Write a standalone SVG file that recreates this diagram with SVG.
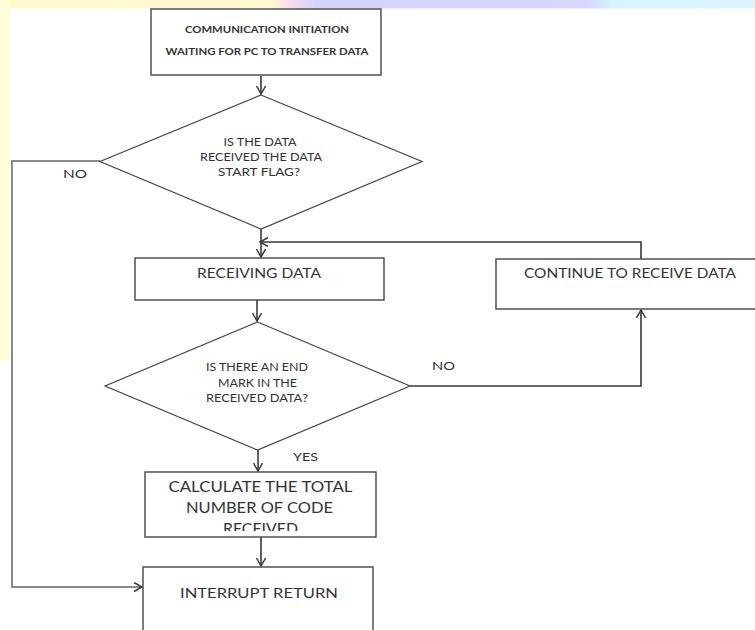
<svg xmlns="http://www.w3.org/2000/svg" width="755" height="630" viewBox="0 0 755 630">
<style>
.box{fill:#fff;stroke:#454545;stroke-width:1.4}
.dia{fill:#fff;stroke:#454545;stroke-width:1.2}
.t{font-family:Lato,"Open Sans","Liberation Sans",sans-serif;fill:#333;text-anchor:middle}
.b{font-weight:bold}
.c{fill:none;stroke:#3a3a3a;stroke-width:1.6}
.g{fill:none;stroke:#8a8a8a;stroke-width:2}
</style>
<defs>
<linearGradient id="strip" x1="0" y1="0" x2="1" y2="0">
<stop offset="0" stop-color="#FFF9CC"/>
<stop offset="0.36" stop-color="#FFF8D0"/>
<stop offset="0.39" stop-color="#F6D8F2"/>
<stop offset="0.42" stop-color="#D4D2FF"/>
<stop offset="0.78" stop-color="#D6D6FF"/>
<stop offset="0.81" stop-color="#D6F4FF"/>
<stop offset="1" stop-color="#DCF4FF"/>
</linearGradient>
<marker id="ah" markerWidth="12" markerHeight="12" refX="9" refY="5" orient="auto" markerUnits="userSpaceOnUse">
<path d="M1,0.5 L9,5 L1,9.5" fill="none" stroke="#3a3a3a" stroke-width="1.5"/>
</marker>
<clipPath id="clipCalc"><rect x="145" y="472" width="232" height="59"/></clipPath>
</defs>
<rect x="0" y="0" width="755" height="630" fill="#fff"/>
<rect x="0" y="0" width="755" height="8.5" fill="url(#strip)"/>
<rect x="0" y="0" width="9.5" height="361" fill="#FFFDD8"/>

<g id="connectors">
<line class="c" x1="261" y1="76" x2="261" y2="94" marker-end="url(#ah)"/>
<polyline class="g" points="100,161 12,161 12,587 142,587" marker-end="url(#ah)"/>
<line class="c" x1="261" y1="229" x2="261" y2="257" marker-end="url(#ah)"/>
<polyline class="c" points="641,259 641,242 260,242" marker-end="url(#ah)"/>
<line class="c" x1="257" y1="300" x2="257" y2="321" marker-end="url(#ah)"/>
<polyline class="c" points="410,386 641,386 641,310" marker-end="url(#ah)"/>
<line class="c" x1="258" y1="450" x2="258" y2="471" marker-end="url(#ah)"/>
<line class="c" x1="261" y1="537" x2="261" y2="566" marker-end="url(#ah)"/>
<text class="t" x="75" y="178" font-size="12" textLength="24" lengthAdjust="spacingAndGlyphs">NO</text>
<text class="t" x="443.5" y="370" font-size="12" textLength="23" lengthAdjust="spacingAndGlyphs">NO</text>
<text class="t" x="305.5" y="461" font-size="12" textLength="25" lengthAdjust="spacingAndGlyphs">YES</text>
</g>

<g id="start">
<rect class="box" x="151" y="9" width="230" height="66"/>
<text class="t b" x="267" y="32.7" font-size="9.5" textLength="164" lengthAdjust="spacingAndGlyphs">COMMUNICATION INITIATION</text>
<text class="t b" x="267" y="55" font-size="9.5" textLength="203" lengthAdjust="spacingAndGlyphs">WAITING FOR PC TO TRANSFER DATA</text>
</g>

<g id="decision-start">
<polygon class="dia" points="261,95 422,161.5 261,229 100,161.5"/>
<text class="t" x="260" y="146" font-size="11" textLength="73" lengthAdjust="spacingAndGlyphs">IS THE DATA</text>
<text class="t" x="261" y="161" font-size="11" textLength="122" lengthAdjust="spacingAndGlyphs">RECEIVED THE DATA</text>
<text class="t" x="259" y="176" font-size="11" textLength="82" lengthAdjust="spacingAndGlyphs">START FLAG?</text>
</g>

<g id="receiving">
<rect class="box" x="135" y="258" width="249" height="42"/>
<text class="t" x="259" y="277.5" font-size="12.5" textLength="124" lengthAdjust="spacingAndGlyphs">RECEIVING DATA</text>
</g>

<g id="continue">
<rect class="box" x="496" y="259" width="262" height="50"/>
<text class="t" x="630" y="277.5" font-size="12.5" textLength="212" lengthAdjust="spacingAndGlyphs">CONTINUE TO RECEIVE DATA</text>
</g>

<g id="decision-end">
<polygon class="dia" points="257.5,322 410,386 257.5,450 105,386"/>
<text class="t" x="257" y="371" font-size="11" textLength="102" lengthAdjust="spacingAndGlyphs">IS THERE AN END</text>
<text class="t" x="257.5" y="387" font-size="11" textLength="79" lengthAdjust="spacingAndGlyphs">MARK IN THE</text>
<text class="t" x="257" y="402" font-size="11" textLength="102" lengthAdjust="spacingAndGlyphs">RECEIVED DATA?</text>
</g>

<g id="calculate">
<rect class="box" x="145" y="472" width="231" height="65"/>
<g clip-path="url(#clipCalc)">
<text class="t" x="260.5" y="492.4" font-size="15" textLength="184" lengthAdjust="spacingAndGlyphs">CALCULATE THE TOTAL</text>
<text class="t" x="259.5" y="513.4" font-size="15" textLength="147" lengthAdjust="spacingAndGlyphs">NUMBER OF CODE</text>
<text class="t" x="260.5" y="534.4" font-size="15" textLength="75" lengthAdjust="spacingAndGlyphs">RECEIVED</text>
</g>
</g>

<g id="interrupt">
<rect class="box" x="143" y="567" width="230" height="70"/>
<text class="t" x="259" y="598" font-size="14" textLength="158" lengthAdjust="spacingAndGlyphs">INTERRUPT RETURN</text>
</g>
</svg>
